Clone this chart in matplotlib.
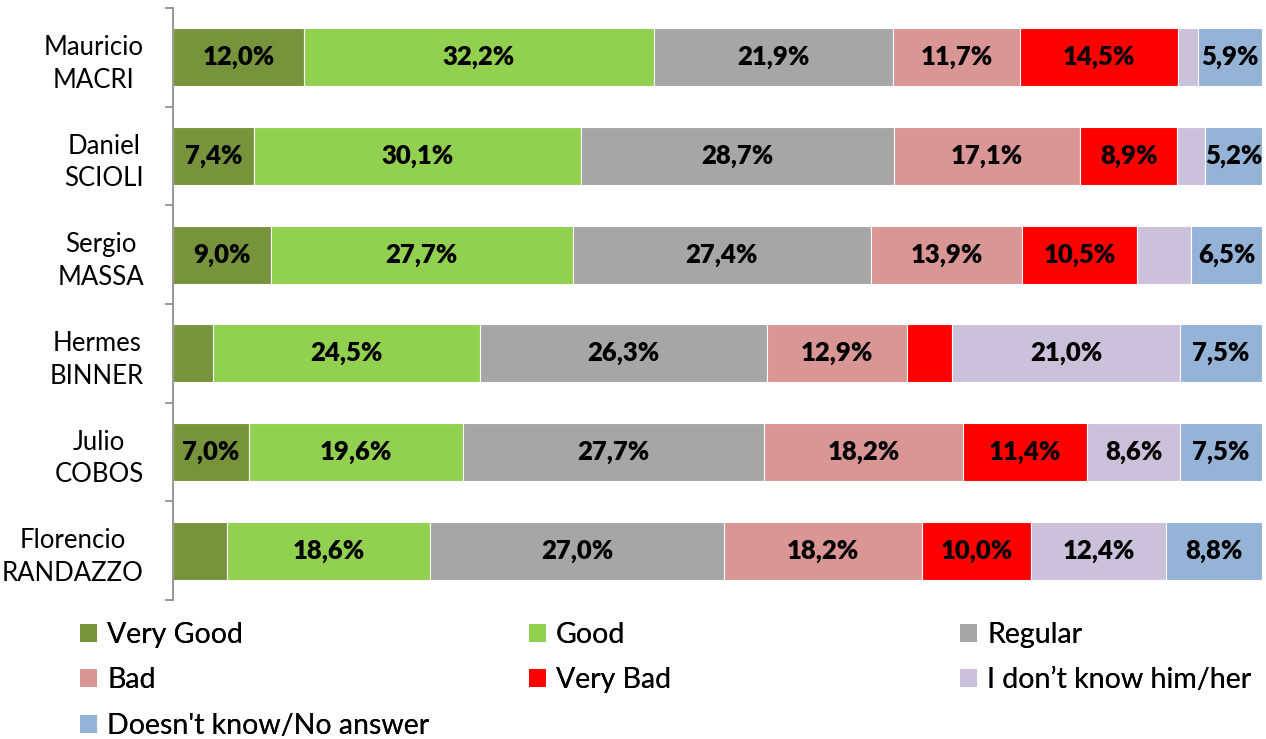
import matplotlib
matplotlib.use("Agg")
import matplotlib.pyplot as plt
from matplotlib.patches import Patch
import numpy as np

plt.rcParams['font.family'] = ['Lato', 'DejaVu Sans']

candidates = ["Mauricio\nMACRI", "Daniel\nSCIOLI", "Sergio\nMASSA", "Hermes\nBINNER",
              "Julio\nCOBOS", "Florencio\nRANDAZZO"]
series_names = ["Very Good", "Good", "Regular", "Bad", "Very Bad",
                "I don\u2019t know him/her", "Doesn't know/No answer"]
very_good = [12.0, 7.4, 9.0, 3.7, 7.0, 5.0]
good = [32.2, 30.1, 27.7, 24.5, 19.6, 18.6]
regular = [21.9, 28.7, 27.4, 26.3, 27.7, 27.0]
bad = [11.7, 17.1, 13.9, 12.9, 18.2, 18.2]
very_bad = [14.5, 8.9, 10.5, 4.1, 11.4, 10.0]
dont_know_him = [1.8, 2.6, 5.0, 21.0, 8.6, 12.4]
dk_na = [5.9, 5.2, 6.5, 7.5, 7.5, 8.8]
colors = ["#77933C", "#92D050", "#A6A6A6", "#D99694", "#FF0000", "#CCC1DA", "#95B3D7"]

series = [very_good, good, regular, bad, very_bad, dont_know_him, dk_na]

W, H = 1266, 739
fig = plt.figure(figsize=(W / 100, H / 100), dpi=100)
ax = fig.add_axes([173 / W, 1 - 600 / H, (1262 - 173) / W, 592 / H])

y = np.arange(len(candidates))
left = np.zeros(len(candidates))
for vals, c, name in zip(series, colors, series_names):
    vals = np.array(vals)
    ax.barh(y, vals, left=left, height=0.59, color=c, edgecolor="white",
            linewidth=0.8, label=name)
    for yi, l, v in zip(y, left, vals):
        if v > 5.1:
            ax.text(l + v / 2, yi, f"{v:.1f}%".replace(".", ","), ha="center", va="center",
                    fontsize=18.5, fontweight="heavy", color="black")
    left += vals

ax.set_xlim(0, 100)
ax.set_ylim(len(candidates) - 0.5, -0.5)
ax.set_yticks(y)
ax.set_yticklabels(candidates, fontsize=18.5, multialignment="center", linespacing=1.4)
ax.set_yticks(np.arange(-0.5, len(candidates)), minor=True)
ax.tick_params(axis="y", which="major", length=0, pad=21)
ax.tick_params(axis="y", which="minor", length=6, color="#868686", width=1.2)
ax.set_xticks([])
for s in ["top", "right", "bottom"]:
    ax.spines[s].set_visible(False)
ax.spines["left"].set_color("#868686")
ax.spines["left"].set_linewidth(1.2)

handles = [Patch(facecolor=c, edgecolor="none") for c in colors]
cols = [[0, 3, 6], [1, 4], [2, 5]]
xs = [80, 529, 960]
for idx, x0 in zip(cols, xs):
    leg = fig.legend([handles[i] for i in idx], [series_names[i] for i in idx],
                     loc="upper left", bbox_to_anchor=(x0 / W, 1 - 622 / H),
                     frameon=False, fontsize=20.5, handlelength=0.6, handleheight=0.6,
                     handletextpad=0.35, labelspacing=0.68, borderpad=0, borderaxespad=0)
    fig.add_artist(leg)

fig.savefig("out.png", dpi=100)
